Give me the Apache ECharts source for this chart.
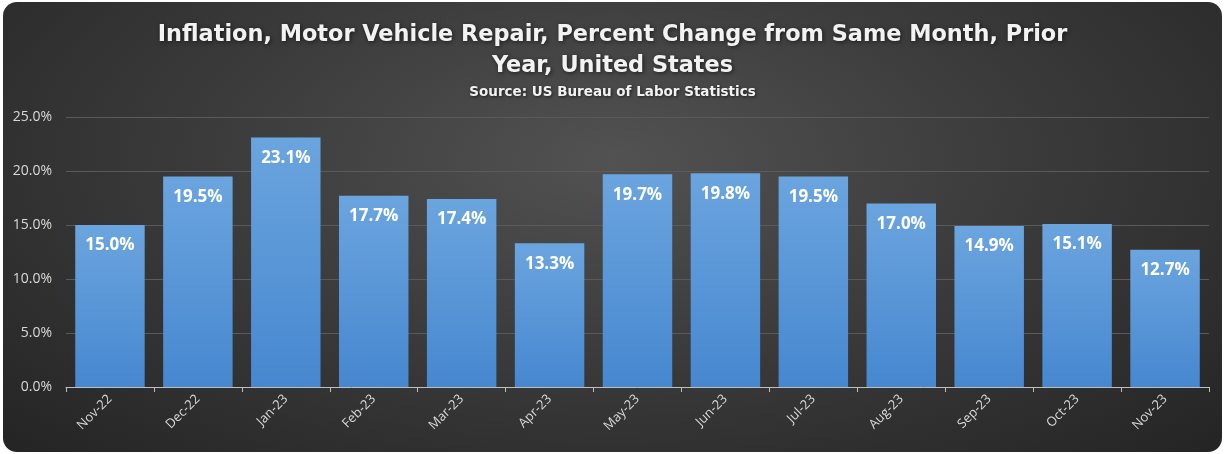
<!DOCTYPE html>
<html><head><meta charset="utf-8">
<script src="https://cdn.jsdelivr.net/npm/echarts@6/dist/echarts.min.js"></script>
<style>
html,body{margin:0;padding:0;background:#fff;}
#wrap{position:absolute;left:3px;top:2px;width:1219px;height:450px;border-radius:14px;
background:radial-gradient(ellipse at 50% 35%, #525252 0%, #3c3c3c 45%, #242424 100%);overflow:hidden;}
#c{position:absolute;left:-3px;top:-2px;width:1225px;height:454px;}
</style></head>
<body><div id="wrap"><div id="c"></div></div>
<script>
const categories = ['Nov-22','Dec-22','Jan-23','Feb-23','Mar-23','Apr-23','May-23','Jun-23','Jul-23','Aug-23','Sep-23','Oct-23','Nov-23'];
const values = [15.0,19.5,23.1,17.7,17.4,13.3,19.7,19.8,19.5,17.0,14.9,15.1,12.7];
const yTicks = [0,5,10,15,20,25];

const chart = echarts.init(document.getElementById('c'), null, {renderer:'canvas'});
chart.setOption({
  backgroundColor:'transparent',
  animation:false,
  title:[{
    text:'Inflation, Motor Vehicle Repair, Percent Change from Same Month, Prior\nYear, United States',
    left:'center', top:15,
    textStyle:{color:'#f2f2f2',fontFamily:'DejaVu Sans',fontWeight:'bold',fontSize:22.4,lineHeight:31,
      textShadowColor:'rgba(0,0,0,0.6)',textShadowBlur:4,textShadowOffsetX:1,textShadowOffsetY:1}
  },{
    text:'Source: US Bureau of Labor Statistics',
    left:'center', top:80,
    textStyle:{color:'#f2f2f2',fontFamily:'DejaVu Sans',fontWeight:'bold',fontSize:13.5,
      textShadowColor:'rgba(0,0,0,0.6)',textShadowBlur:3,textShadowOffsetX:1,textShadowOffsetY:1}
  }],
  grid:{left:66,right:16,top:117,bottom:67},
  xAxis:{
    type:'category', data:categories,
    axisLine:{lineStyle:{color:'#bfbfbf',width:1}},
    axisTick:{show:true,alignWithLabel:false,length:5,lineStyle:{color:'#bfbfbf'}},
    axisLabel:{rotate:45,color:'#d9d9d9',fontFamily:'Open Sans',fontSize:13,margin:10}
  },
  yAxis:{
    type:'value', min:yTicks[0], max:yTicks[yTicks.length-1], interval:5,
    axisLine:{show:false}, axisTick:{show:false},
    splitLine:{lineStyle:{color:'#5a5a5a',width:1}},
    axisLabel:{color:'#d9d9d9',fontFamily:'Open Sans',fontSize:14,margin:14,
      formatter:v=>v.toFixed(1)+'%'}
  },
  series:[{
    type:'bar', data:values, barCategoryGap:'21%',
    itemStyle:{color:new echarts.graphic.LinearGradient(0,0,0,1,[
      {offset:0,color:'#6ba5df'},{offset:1,color:'#4687cf'}])},
    label:{show:true,position:'insideTop',distance:12,color:'#ffffff',fontFamily:'Open Sans',
      fontWeight:'bold',fontSize:17,formatter:p=>p.value.toFixed(1)+'%'}
  }]
});
</script></body></html>
